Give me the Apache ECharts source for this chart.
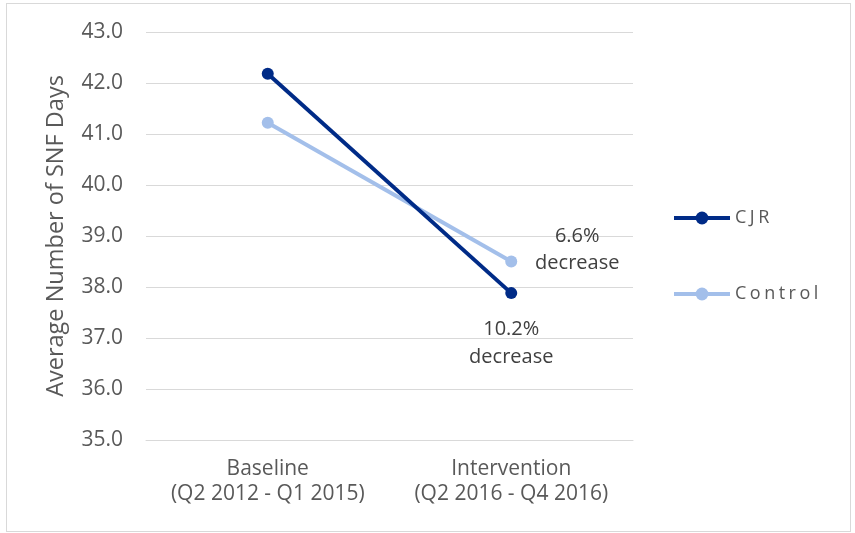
<!DOCTYPE html>
<html>
<head>
<meta charset="utf-8">
<script src="https://cdn.jsdelivr.net/npm/echarts@6/dist/echarts.min.js"></script>
<style>
  html, body { margin: 0; padding: 0; background: #fff; }
  #frame { position: absolute; left: 6px; top: 3px; width: 845px; height: 529px; border: 1px solid #d9d9d9; box-sizing: border-box; }
  #chart { width: 855px; height: 533px; position: absolute; left: 0; top: 0; }
</style>
</head>
<body>
<div id="frame"></div>
<div id="chart"></div>
<script>
// Period categories and average SNF days per group
const categories = ['Baseline\n(Q2 2012 - Q1 2015)', 'Intervention\n(Q2 2016 - Q4 2016)'];
const cjrValues = [42.18, 37.88];
const controlValues = [41.22, 38.50];
const cjrChangeLabel = '10.2%\ndecrease';
const controlChangeLabel = '6.6%\ndecrease';
const yTicks = { min: 35, max: 43, interval: 1 };

const FONT = 'Open Sans';
const TEXT = '#595959';
const LABEL = '#404040';

const chart = echarts.init(document.getElementById('chart'));

function withEndLabel(values, text, label) {
  return values.map((v, i) => i === values.length - 1
    ? { value: v, label: Object.assign({ show: true, formatter: text }, label) }
    : v);
}

// Spaced-out legend names: one rich fragment per character
function spaced(name) {
  return name.split('').map(ch => '{s|' + ch + '}').join('');
}

chart.setOption({
  animation: false,
  textStyle: { fontFamily: FONT },
  grid: { left: 146, right: 222, top: 32, bottom: 93 },
  legend: {
    orient: 'vertical',
    left: 667,
    top: 204,
    itemWidth: 56,
    itemHeight: 16,
    itemGap: 58,
    lineStyle: { width: 4 },
    formatter: spaced,
    textStyle: {
      color: TEXT, fontSize: 18, fontFamily: FONT,
      rich: { s: { color: TEXT, fontSize: 18, fontFamily: FONT, padding: [0, 3.5, 0, 0] } }
    },
    data: ['CJR', 'Control']
  },
  xAxis: {
    type: 'category',
    data: categories,
    boundaryGap: true,
    axisLine: { show: true, lineStyle: { color: '#d9d9d9', width: 1 } },
    axisTick: { show: false },
    axisLabel: { interval: 0, hideOverlap: false, color: TEXT, fontSize: 21, lineHeight: 25, margin: 17, fontFamily: FONT }
  },
  yAxis: {
    type: 'value',
    min: yTicks.min,
    max: yTicks.max,
    interval: yTicks.interval,
    name: 'Average Number of SNF Days',
    nameLocation: 'middle',
    nameRotate: 90,
    nameGap: 78,
    nameTextStyle: { color: TEXT, fontSize: 23.5, fontFamily: FONT },
    axisLine: { show: false },
    axisTick: { show: false },
    axisLabel: { color: TEXT, fontSize: 21, margin: 23, formatter: v => v.toFixed(1), fontFamily: FONT },
    splitLine: { lineStyle: { color: '#d9d9d9', width: 1 } }
  },
  series: [
    {
      name: 'CJR',
      type: 'line',
      data: withEndLabel(cjrValues, cjrChangeLabel, {
        position: 'bottom', distance: 16, color: LABEL, fontSize: 20, lineHeight: 28, fontFamily: FONT
      }),
      symbol: 'circle',
      symbolSize: 12,
      lineStyle: { color: '#002b87', width: 4 },
      itemStyle: { color: '#002b87' },
      z: 3
    },
    {
      name: 'Control',
      type: 'line',
      data: withEndLabel(controlValues, controlChangeLabel, {
        position: 'right', distance: 60, align: 'center', offset: [0, -12],
        color: LABEL, fontSize: 20, lineHeight: 27, fontFamily: FONT
      }),
      symbol: 'circle',
      symbolSize: 12,
      lineStyle: { color: '#a3bfea', width: 4 },
      itemStyle: { color: '#a3bfea' },
      z: 2
    }
  ]
});
</script>
</body>
</html>
